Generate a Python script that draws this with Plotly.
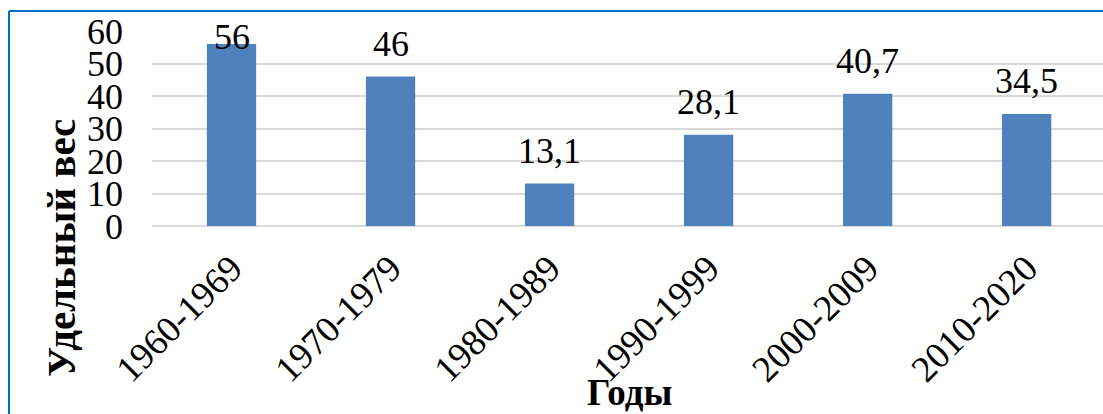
import plotly.graph_objects as go

# Data
periods = ["1960-1969", "1970-1979", "1980-1989", "1990-1999", "2000-2009", "2010-2020"]
shares = [56, 46, 13.1, 28.1, 40.7, 34.5]
y_ticks = [0, 10, 20, 30, 40, 50, 60]

W, H = 1103, 414
ML, MR, MT, MB = 152, 0, 31, 188
FONT = "Liberation Serif"
BAR_COLOR = "#4F81BD"
GRID = "#D9D9D9"
FRAME = "#0070C0"


def px_to_paper(px, py):
    """Convert page pixel coordinates to paper coordinates of the plot area."""
    pw = W - ML - MR
    ph = H - MT - MB
    return (px - ML) / pw, (H - MB - py) / ph


def fmt(v):
    return str(int(v)) if float(v).is_integer() else str(v).replace(".", ",")


fig = go.Figure(
    go.Bar(
        x=periods,
        y=shares,
        marker=dict(color=BAR_COLOR, line=dict(width=0)),
        hoverinfo="skip",
    )
)

# value labels above bars, kept inside the plot area
label_gap = 10
label_cap = 58.2
for p, v in zip(periods, shares):
    fig.add_annotation(
        x=p, y=min(v + label_gap, label_cap), xref="x", yref="y",
        text=fmt(v), showarrow=False, yanchor="middle",
        font=dict(family=FONT, size=36, color="#000"),
    )

# axis titles
tx, ty = px_to_paper(61, 248)
fig.add_annotation(
    x=tx, y=ty, xref="paper", yref="paper", text="<b>Удельный вес</b>",
    textangle=-90, showarrow=False, xanchor="center", yanchor="middle",
    font=dict(family=FONT, size=41, color="#000"),
)
tx, ty = px_to_paper(629, 392)
fig.add_annotation(
    x=tx, y=ty, xref="paper", yref="paper", text="<b>Годы</b>",
    showarrow=False, xanchor="center", yanchor="middle",
    font=dict(family=FONT, size=37, color="#000"),
)

# blue frame (top and left edges)
x0, y0 = px_to_paper(9, 11)
x1, _ = px_to_paper(W + 5, 11)
_, y1 = px_to_paper(9, H + 5)
fig.add_shape(type="line", xref="paper", yref="paper", x0=x0, y0=y0, x1=x1, y1=y0,
              line=dict(color=FRAME, width=2), layer="above")
fig.add_shape(type="line", xref="paper", yref="paper", x0=x0, y0=y0, x1=x0, y1=y1,
              line=dict(color=FRAME, width=2), layer="above")

fig.update_layout(
    width=W, height=H,
    margin=dict(l=ML, r=MR, t=MT, b=MB, autoexpand=False),
    paper_bgcolor="#FFFFFF", plot_bgcolor="#FFFFFF",
    bargap=0.69,
    showlegend=False,
)
fig.update_xaxes(
    range=[-0.5, 5.48], tickangle=-45, ticks="", showgrid=False,
    showline=False, zeroline=False, ticklabelstandoff=12,
    tickfont=dict(family=FONT, size=37, color="#000"),
)
fig.update_yaxes(
    range=[0, 60], tickvals=y_ticks, ticks="", showgrid=True,
    gridcolor=GRID, gridwidth=1.5, zeroline=True, zerolinecolor=GRID, zerolinewidth=1.5,
    showline=False, ticklabelstandoff=28,
    tickfont=dict(family=FONT, size=36, color="#000"),
)

fig.write_html("out.html")
